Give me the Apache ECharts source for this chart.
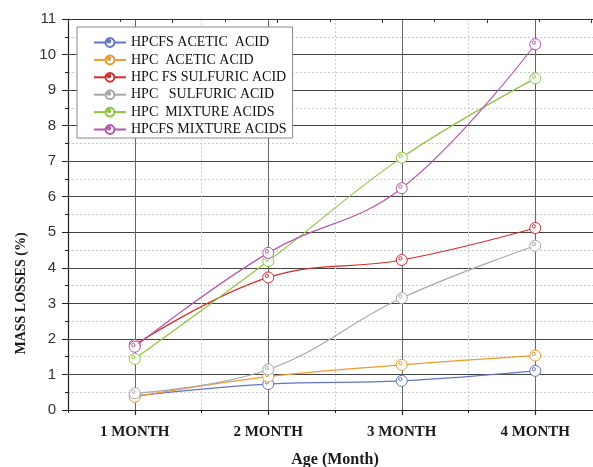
<!DOCTYPE html>
<html>
<head>
<meta charset="utf-8">
<script src="https://cdn.jsdelivr.net/npm/echarts@6/dist/echarts.min.js"></script>
<style>
  html, body { margin: 0; padding: 0; background: #fff; }
  #chart { width: 593px; height: 467px; }
</style>
</head>
<body>
<div id="chart"></div>
<script>
  var months = ['1 MONTH', '2 MONTH', '3 MONTH', '4 MONTH'];

  var hpcfsAcetic = [0.40, 0.73, 0.82, 1.10];
  var hpcAcetic = [0.37, 0.94, 1.27, 1.53];
  var hpcfsSulfuric = [1.83, 3.73, 4.22, 5.12];
  var hpcSulfuric = [0.47, 1.14, 3.15, 4.62];
  var hpcMixture = [1.44, 4.19, 7.10, 9.33];
  var hpcfsMixture = [1.78, 4.42, 6.24, 10.29];

  var yTicks = [0, 1, 2, 3, 4, 5, 6, 7, 8, 9, 10, 11];

  // open circle with a small inner ring, like the origin markers
  var ring = 'path://M12,2A10,10,0,1,1,11.99,2Z M9.5,6A3,3,0,1,1,9.49,6Z';

  function makeSeries(name, data, color) {
    return {
      name: name,
      type: 'line',
      data: data,
      smooth: 0.4,
      symbol: ring,
      symbolSize: 11,
      color: color,
      lineStyle: { color: color, width: 1.2 },
      itemStyle: { color: '#fff', borderColor: color, borderWidth: 1 },
      z: 3
    };
  }

  var chart = echarts.init(document.getElementById('chart'));

  chart.setOption({
    animation: false,
    backgroundColor: '#fff',
    grid: { left: 68, top: 19, bottom: 57, width: 534, outerBoundsMode: 'none', containLabel: false },
    legend: {
      orient: 'vertical',
      left: 77,
      top: 27,
      padding: [8.5, 6, 1.5, 16],
      itemWidth: 32,
      itemHeight: 11,
      itemGap: 3.4,
      backgroundColor: '#fff',
      borderColor: '#888',
      borderWidth: 1,
      textStyle: { fontFamily: 'Liberation Serif', fontSize: 14, color: '#111' }
    },
    xAxis: [
      {
        type: 'category',
        data: months,
        boundaryGap: true,
        position: 'bottom',
        axisLine: { show: false },
        axisTick: { show: false },
        splitLine: { show: false },
        axisLabel: {
          margin: 15,
          fontFamily: 'Liberation Serif',
          fontWeight: 'bold',
          fontSize: 15,
          color: '#1a1a1a'
        },
        name: 'Age (Month)',
        nameLocation: 'middle',
        nameGap: 42,
        nameTextStyle: {
          fontFamily: 'Liberation Serif',
          fontWeight: 'bold',
          fontSize: 16,
          color: '#1a1a1a'
        }
      },
      {
        // gridlines and ticks: major at band edges, minor at month centres
        type: 'value',
        position: 'bottom',
        min: 0.5,
        max: 4.5,
        interval: 1,
        axisLine: { show: true, lineStyle: { color: '#222', width: 1.2 } },
        axisTick: { show: true, length: 3, lineStyle: { color: '#222' } },
        minorTick: { show: true, splitNumber: 2, length: 5, lineStyle: { color: '#222', width: 1.2 } },
        axisLabel: { show: false },
        splitLine: { show: true, lineStyle: { color: '#ccc', type: [2, 2] } },
        minorSplitLine: { show: true, lineStyle: { color: '#666', width: 1 } }
      },
      {
        type: 'value',
        position: 'top',
        min: 0,
        max: 5.1,
        interval: 1,
        axisLine: { show: true, lineStyle: { color: '#333', width: 1.2 } },
        axisTick: { show: true, inside: true, length: 4, lineStyle: { color: '#333' } },
        minorTick: { show: true, splitNumber: 2, length: 3, lineStyle: { color: '#333' } },
        axisLabel: { show: false },
        splitLine: { show: false }
      }
    ],
    yAxis: {
      type: 'value',
      min: yTicks[0],
      max: yTicks[yTicks.length - 1],
      interval: 1,
      axisLine: { show: true, lineStyle: { color: '#222', width: 1.2 } },
      axisTick: { show: true, length: 6, lineStyle: { color: '#222' } },
      minorTick: { show: true, splitNumber: 2, length: 3, lineStyle: { color: '#222' } },
      axisLabel: {
        margin: 12,
        fontFamily: 'Liberation Sans',
        fontSize: 15,
        color: '#333'
      },
      splitLine: { show: true, lineStyle: { color: '#444', width: 1 } },
      minorSplitLine: { show: true, lineStyle: { color: '#ccc', type: [2, 2] } },
      name: 'MASS LOSSES (%)',
      nameLocation: 'middle',
      nameGap: 40,
      nameTextStyle: {
        fontFamily: 'Liberation Serif',
        fontWeight: 'bold',
        fontSize: 14,
        color: '#1a1a1a',
        padding: [0, 158, 0, 0]
      }
    },
    series: [
      makeSeries('HPCFS ACETIC  ACID', hpcfsAcetic, '#6275c9'),
      makeSeries('HPC  ACETIC ACID', hpcAcetic, '#ee9a30'),
      makeSeries('HPC FS SULFURIC ACID', hpcfsSulfuric, '#d62b2b'),
      makeSeries('HPC   SULFURIC ACID', hpcSulfuric, '#a8a8a8'),
      makeSeries('HPC  MIXTURE ACIDS', hpcMixture, '#8cc63f'),
      makeSeries('HPCFS MIXTURE ACIDS', hpcfsMixture, '#b457ae')
    ]
  });
</script>
</body>
</html>
